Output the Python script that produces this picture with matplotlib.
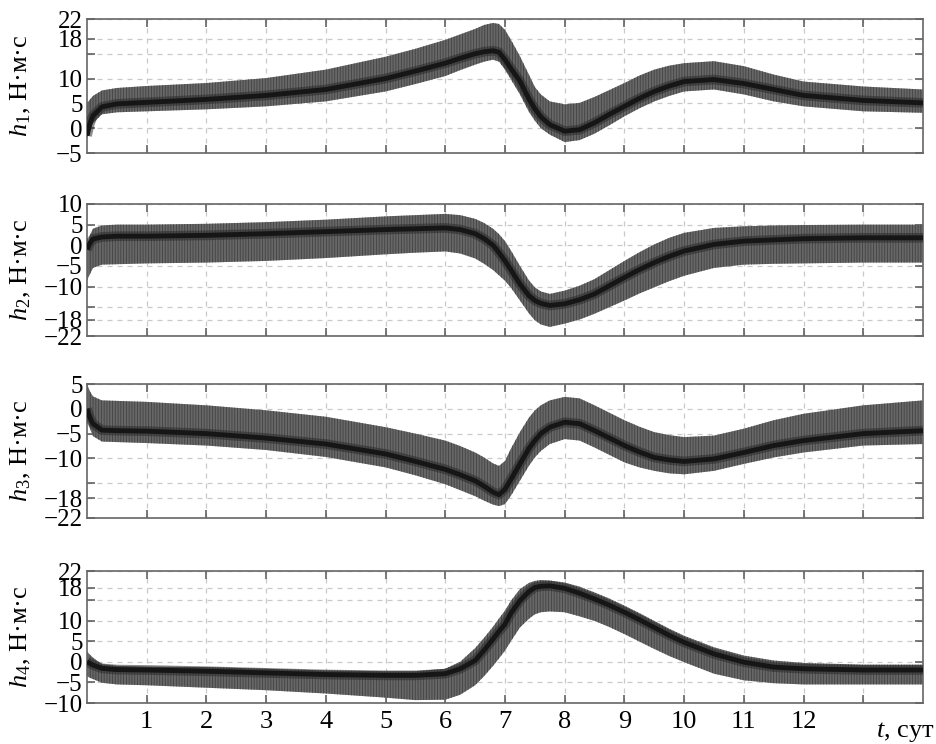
import numpy as np
import matplotlib
matplotlib.use("Agg")
import matplotlib.pyplot as plt

plt.rcParams["font.family"] = "Liberation Serif"
plt.rcParams["mathtext.fontset"] = "custom"
plt.rcParams["mathtext.it"] = "Liberation Serif:italic"
plt.rcParams["mathtext.rm"] = "Liberation Serif"
plt.rcParams["hatch.linewidth"] = 0.6

# time, days
t = [0, 0.05, 0.1, 0.25, 0.5, 1, 2, 3, 4, 5, 5.5, 6, 6.25, 6.5, 6.65, 6.8, 6.9, 7,
     7.1, 7.25, 7.4, 7.5, 7.6, 7.75, 8, 8.25, 8.5, 8.75, 9, 9.25, 9.5, 9.75, 10,
     10.5, 11, 11.5, 12, 13, 14]

# h1: upper envelope, dark core, lower envelope
h1_up = [5.0, 5.8, 6.5, 7.6, 8.1, 8.5, 9.1, 10.1, 11.8, 14.4, 16.0, 17.8, 18.9, 20.0,
         20.8, 21.2, 21.0, 19.8, 17.8, 14.5, 10.8, 8.3, 6.8, 5.4, 4.8, 5.1, 6.3, 7.7,
         9.1, 10.6, 11.8, 12.6, 13.1, 13.5, 12.5, 10.8, 9.4, 8.4, 7.8]
h1_mid = [-1.5, 1.0, 2.5, 4.3, 4.9, 5.2, 5.8, 6.6, 7.8, 10.0, 11.5, 13.1, 14.1, 15.0,
          15.4, 15.6, 15.3, 13.8, 12.0, 9.5, 5.9, 3.9, 2.3, 0.7, -0.6, -0.3, 1.1, 2.8,
          4.4, 6.0, 7.4, 8.5, 9.4, 9.8, 9.0, 7.8, 6.6, 5.6, 5.1]
h1_lo = [-2.0, -0.5, 1.0, 2.8, 3.2, 3.4, 3.8, 4.4, 5.4, 7.4, 8.9, 10.5, 11.7, 12.8,
         13.4, 13.8, 13.4, 11.8, 9.8, 6.8, 3.3, 1.5, 0.0, -1.3, -2.8, -2.4, -1.1, 0.6,
         2.4, 4.0, 5.4, 6.5, 7.4, 7.8, 6.8, 5.4, 4.4, 3.4, 3.1]

h2_up = [0.0, 2.5, 4.0, 4.8, 5.0, 5.0, 5.2, 5.6, 6.2, 7.0, 7.3, 7.6, 7.3, 6.4,
         5.4, 4.0, 2.7, 1.0, -1.3, -5.0, -8.5, -10.2, -11.2, -11.8, -11.0, -9.8, -8.2, -6.0,
         -3.8, -1.7, 0.2, 1.8, 3.0, 4.2, 4.6, 4.8, 4.9, 5.0, 5.0]
h2_mid = [-1.0, 0.5, 1.5, 2.0, 2.2, 2.2, 2.4, 2.8, 3.3, 3.8, 4.0, 4.2, 3.8, 2.8,
          1.6, 0.0, -1.8, -3.8, -6.0, -9.4, -12.2, -13.4, -14.1, -14.6, -14.2, -13.2, -11.8, -9.8,
          -7.8, -5.9, -4.2, -2.7, -1.4, 0.2, 1.0, 1.3, 1.6, 1.8, 1.8]
h2_lo = [-8.5, -7.0, -5.5, -4.7, -4.6, -4.4, -4.2, -3.8, -3.1, -2.2, -1.8, -1.5, -2.0, -3.2,
         -4.5, -6.0, -7.3, -8.6, -10.3, -13.4, -16.5, -18.2, -19.2, -19.8, -19.0, -18.0, -16.6, -15.0,
         -13.4, -11.7, -10.2, -8.7, -7.4, -5.5, -4.7, -4.5, -4.4, -4.2, -4.2]

h3_up = [5.0, 3.5, 2.5, 1.7, 1.6, 1.4, 0.7, -0.3, -1.6, -3.7, -5.0, -6.4, -7.5, -8.8,
         -9.8, -11.0, -11.5, -10.5, -8.0, -4.7, -1.8, -0.3, 0.7, 1.7, 2.4, 2.1, 0.7, -0.8,
         -2.3, -3.6, -4.7, -5.3, -5.7, -5.4, -4.0, -2.3, -1.0, 0.7, 1.7]
h3_mid = [0.0, -1.8, -3.0, -4.3, -4.4, -4.5, -5.0, -5.9, -7.1, -9.1, -10.6, -12.2, -13.3, -14.5,
          -15.6, -16.8, -17.3, -16.2, -14.2, -11.1, -8.0, -6.4, -5.0, -3.7, -2.7, -3.0, -4.4, -5.9,
          -7.4, -8.7, -9.8, -10.3, -10.6, -10.1, -8.8, -7.4, -6.4, -5.0, -4.4]
h3_lo = [-2.0, -4.0, -5.5, -6.6, -6.7, -6.9, -7.4, -8.3, -9.7, -11.8, -13.4, -15.2, -16.4, -17.6,
         -18.5, -19.3, -19.6, -19.2, -17.5, -14.5, -11.5, -9.8, -8.5, -7.1, -6.1, -6.4, -7.8, -9.3,
         -10.8, -11.8, -12.5, -13.0, -13.2, -12.5, -11.1, -9.8, -8.8, -7.4, -7.1]

h4_up = [2.5, 1.7, 1.0, -0.6, -1.0, -1.2, -1.3, -1.7, -2.1, -2.3, -2.3, -1.7, 0.0, 3.3,
         5.8, 8.5, 10.5, 12.4, 14.8, 17.6, 19.1, 19.6, 19.8, 19.7, 19.2, 18.2, 16.8, 15.3,
         13.6, 11.8, 9.9, 8.0, 6.3, 3.5, 1.5, 0.3, -0.3, -0.7, -0.7]
h4_mid = [0.0, -0.4, -0.8, -1.6, -1.9, -2.0, -2.3, -2.7, -3.1, -3.3, -3.3, -2.9, -1.7, 0.3,
          2.8, 5.5, 7.4, 9.1, 11.8, 14.8, 17.0, 18.0, 18.3, 18.4, 17.8, 16.6, 15.2, 13.7,
          12.0, 10.2, 8.3, 6.4, 4.7, 1.9, -0.1, -1.3, -1.7, -2.0, -2.0]
h4_lo = [-3.5, -3.9, -4.2, -5.1, -5.5, -5.7, -6.3, -6.9, -7.7, -8.7, -9.3, -9.2, -8.0, -5.7,
         -3.5, -1.0, 0.8, 2.7, 5.0, 8.3, 10.4, 11.5, 12.0, 12.2, 12.0, 11.0, 9.9, 8.4,
         6.7, 4.9, 3.1, 1.4, -0.1, -2.9, -4.5, -5.2, -5.5, -5.5, -5.5]

y_labels = [r"$h_1$, Н·м·с", r"$h_2$, Н·м·с", r"$h_3$, Н·м·с", r"$h_4$, Н·м·с"]
y_lims = [(-5, 22), (-22, 10), (-22, 5), (-10, 22)]
y_ticks = [[-5, 0, 5, 10, 15, 18, 22],
           [-22, -18, -15, -10, -5, 0, 5, 10],
           [-22, -18, -15, -10, -5, 0, 5],
           [-10, -5, 0, 5, 10, 15, 18, 22]]
y_ticklabels = [["−5", "0", "5", "10", "", "18", "22"],
                ["−22", "−18", "", "−10", "−5", "0", "5", "10"],
                ["−22", "−18", "", "−10", "−5", "0", "5"],
                ["−10", "−5", "0", "5", "10", "", "18", "22"]]
x_ticks = list(range(1, 14))
x_ticklabels = [str(i) for i in range(1, 13)] + [""]

series = [(h1_up, h1_mid, h1_lo), (h2_up, h2_mid, h2_lo),
          (h3_up, h3_mid, h3_lo), (h4_up, h4_mid, h4_lo)]

fig = plt.figure(figsize=(9.37, 7.44), dpi=100)
W, H = 937, 744
boxes = [(19, 153), (204, 336), (384, 518), (571, 703)]

for i, (up, mid, lo) in enumerate(series):
    top_px, bot_px = boxes[i]
    ax = fig.add_axes([87 / W, 1 - bot_px / H, (923 - 87) / W, (bot_px - top_px) / H])
    ax.fill_between(t, lo, up, facecolor="#676767", edgecolor="#424242",
                    hatch="||||||", linewidth=0, zorder=2)
    # soft halo + dark core of the oscillation band
    ax.plot(t, mid, color="#2a2a2a", lw=7, alpha=0.55, zorder=3, solid_capstyle="butt")
    ax.plot(t, mid, color="#161616", lw=3.5, zorder=4, solid_capstyle="butt")

    ax.set_xlim(0, 14)
    ax.set_ylim(*y_lims[i])
    ax.set_yticks(y_ticks[i])
    ax.set_yticklabels(y_ticklabels[i])
    ax.set_xticks(x_ticks)
    if i == 3:
        ax.set_xticklabels(x_ticklabels)
    else:
        ax.set_xticklabels([])

    ax.grid(True, linestyle=(0, (4, 4)), color="#c9c9c9", lw=0.9)
    ax.set_axisbelow(True)
    ax.tick_params(direction="in", length=6, width=1.1, color="#555555",
                   top=True, right=True, labelsize=19)
    ax.tick_params(axis="y", pad=3, labelsize=18)
    ax.tick_params(axis="x", pad=6)
    for s in ax.spines.values():
        s.set_color("#666666")
        s.set_linewidth(1.2)

    fig.text(21 / W, 1 - (top_px + bot_px) / 2 / H, y_labels[i], rotation=90,
             ha="center", va="center", fontsize=19)

fig.text(935 / W, 1 - 737 / H, r"$t$, сут", ha="right", va="baseline", fontsize=19)

fig.savefig("out.png", dpi=100)
